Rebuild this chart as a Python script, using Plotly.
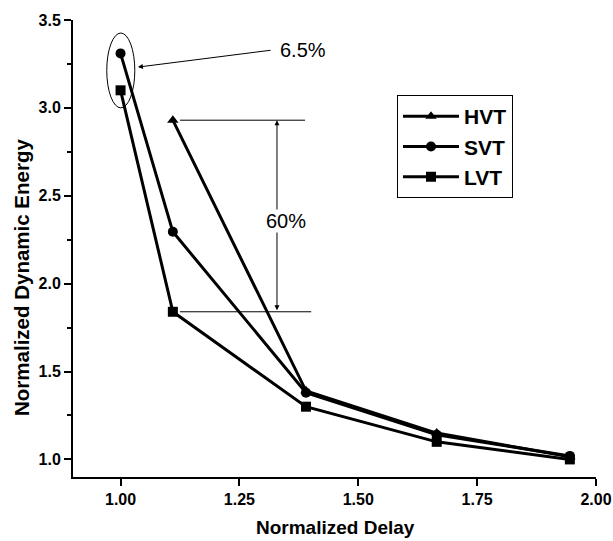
import plotly.graph_objects as go

# Data
hvt_x = [1.11, 1.39, 1.665, 1.945]
hvt_y = [2.93, 1.39, 1.15, 1.015]
svt_x = [1.0, 1.11, 1.39, 1.665, 1.945]
svt_y = [3.31, 2.295, 1.38, 1.14, 1.02]
lvt_x = [1.0, 1.11, 1.39, 1.665, 1.945]
lvt_y = [3.10, 1.84, 1.30, 1.10, 1.00]

x_ticks = [1.00, 1.25, 1.50, 1.75, 2.00]
x_tick_labels = ["1.00", "1.25", "1.50", "1.75", "2.00"]
y_ticks = [1.0, 1.5, 2.0, 2.5, 3.0, 3.5]
y_tick_labels = ["1.0", "1.5", "2.0", "2.5", "3.0", "3.5"]

FONT = "Arial, 'Liberation Sans', sans-serif"

W, H = 613, 541
L, R, T, B = 73, 17, 20, 64
PW, PH = W - L - R, H - T - B


def px(xr):  # page x -> paper x
    return (xr - L) / PW


def py(yr):  # page y -> paper y
    return 1 - (yr - T) / PH


fig = go.Figure()
for name, xs, ys, sym in [("HVT", hvt_x, hvt_y, "triangle-up"),
                           ("SVT", svt_x, svt_y, "circle"),
                           ("LVT", lvt_x, lvt_y, "square")]:
    fig.add_trace(go.Scatter(
        x=xs, y=ys, name=name, mode="lines+markers",
        line=dict(color="black", width=3),
        marker=dict(symbol=sym, size=10, color="black"),
        hoverinfo="skip",
    ))

fig.update_layout(
    width=W, height=H,
    margin=dict(l=L, r=R, t=T, b=B),
    plot_bgcolor="white", paper_bgcolor="white",
    font=dict(family=FONT, color="black"),
    showlegend=True,
    legend=dict(
        x=px(397), y=py(95), xanchor="left", yanchor="top",
        font=dict(size=21, family=FONT, color="black", weight="bold"),
        bordercolor="black", borderwidth=1, bgcolor="white",
        itemwidth=56, tracegroupgap=0,
    ),
)

fig.update_xaxes(
    range=[0.9, 2.0], showgrid=False, zeroline=False, automargin=False,
    showline=True, linecolor="black", linewidth=2,
    ticks="outside", ticklen=7, tickwidth=1.5, tickcolor="black",
    tickvals=x_ticks, ticktext=x_tick_labels,
    tickfont=dict(size=16, weight="bold"), ticklabeloverflow="allow",
)
fig.update_yaxes(
    range=[0.9, 3.5], showgrid=False, zeroline=False, automargin=False,
    showline=True, linecolor="black", linewidth=2,
    ticks="outside", ticklen=7, tickwidth=1.5, tickcolor="black",
    tickvals=y_ticks, ticktext=y_tick_labels,
    tickfont=dict(size=16, weight="bold"),
    minor=dict(tickvals=[1.25, 1.75, 2.25, 2.75, 3.25], ticks="outside", ticklen=4,
               tickwidth=1.5, tickcolor="black"),
)

# Axis titles
fig.add_annotation(x=px(335), y=py(527), xref="paper", yref="paper", text="Normalized Delay",
                   showarrow=False, xanchor="center", yanchor="middle",
                   font=dict(size=19, weight="bold", color="black"))
fig.add_annotation(x=px(21), y=py(278), xref="paper", yref="paper",
                   text="Normalized Dynamic Energy", textangle=-90,
                   showarrow=False, xanchor="center", yanchor="middle",
                   font=dict(size=20.5, weight="bold", color="black"))

# Ellipse around the 1.00 points
fig.add_shape(type="circle", xref="x", yref="y", x0=0.971, x1=1.030, y0=3.0, y1=3.426,
              line=dict(color="black", width=1))
# Arrow to ellipse
fig.add_annotation(x=1.0365, y=3.232, ax=1.3187, ay=3.329, axref="x", ayref="y",
                   xref="x", yref="y", text="", showarrow=True, arrowhead=2,
                   arrowsize=1, arrowwidth=1, arrowcolor="black")
fig.add_annotation(x=1.331, y=3.33, xref="x", yref="y", text="6.5%", showarrow=False,
                   xanchor="left", yanchor="middle", font=dict(size=20, color="black"))
# Horizontal reference lines
fig.add_shape(type="line", xref="x", yref="y", x0=1.125, x1=1.388, y0=hvt_y[0], y1=hvt_y[0],
              line=dict(color="black", width=1))
fig.add_shape(type="line", xref="x", yref="y", x0=1.125, x1=1.401, y0=lvt_y[1], y1=lvt_y[1],
              line=dict(color="black", width=1))
# Double arrow
fig.add_annotation(x=1.329, y=hvt_y[0], ax=1.329, ay=lvt_y[1], axref="x", ayref="y",
                   xref="x", yref="y", text="", showarrow=True, arrowhead=2,
                   arrowside="end+start", startarrowhead=2,
                   arrowsize=1, arrowwidth=1, arrowcolor="black")
fig.add_annotation(x=1.348, y=2.355, xref="x", yref="y", text="60%", showarrow=False,
                   bgcolor="white", borderpad=0, font=dict(size=20, color="black"))

fig.write_html("out.html", config={"displayModeBar": False},
               post_script="document.body.style.margin='0';")
